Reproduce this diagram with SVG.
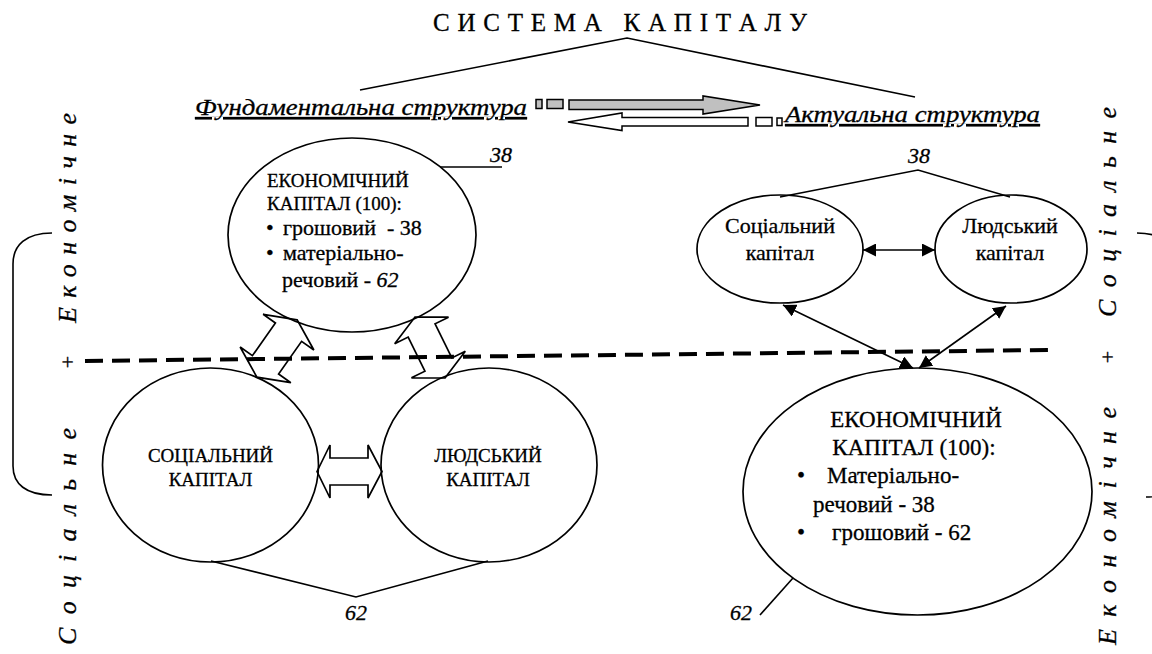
<svg xmlns="http://www.w3.org/2000/svg" width="1152" height="654" viewBox="0 0 1152 654">
<defs>
<style>
text{font-family:'Liberation Serif','Times New Roman',serif;fill:#000;stroke:#000;stroke-width:0.3}
.it{font-style:italic}
.el{fill:#fff;stroke:#000;stroke-width:1.7}
.ln{stroke:#000;stroke-width:1.6;fill:none}
.blk{fill:none;stroke:#000;stroke-width:1.7;stroke-linejoin:miter}
.dash{stroke:#000;stroke-width:4;stroke-dasharray:18 9;fill:none}
.dbl{stroke:#000;stroke-width:1.6;fill:none;marker-start:url(#ah);marker-end:url(#ah)}
</style>
<marker id="ah" viewBox="0 0 12 12" refX="12" refY="6" markerWidth="13" markerHeight="13" markerUnits="userSpaceOnUse" orient="auto-start-reverse"><path d="M0,0 L12,6 L0,12 z" fill="#000"/></marker>
</defs>
<rect width="1152" height="654" fill="#fff"/>

<g id="title"><text x="433" y="31" font-size="25" textLength="374" lengthAdjust="spacing" xml:space="preserve">С И С Т Е М А   К А П І Т А Л У</text></g>

<g id="fundamental"><text x="195" y="115" class="it" font-size="24" textLength="332" lengthAdjust="spacingAndGlyphs" text-decoration="underline">Фундаментальна структура</text></g>
<g id="actual"><text x="785" y="122" class="it" font-size="24" textLength="255" lengthAdjust="spacingAndGlyphs" text-decoration="underline">Актуальна структура</text></g>

<g id="econ-left">
<ellipse class="el" cx="352" cy="235" rx="124" ry="97"/>
<text x="267" y="187" font-size="19">ЕКОНОМІЧНИЙ</text>
<text x="267" y="210" font-size="19">КАПІТАЛ (100):</text>
<text x="266" y="235" font-size="22">•</text><text x="283" y="235" font-size="22" xml:space="preserve">грошовий  - 38</text>
<text x="266" y="260" font-size="22">•</text><text x="283" y="260" font-size="22">матеріально-</text>
<text x="282" y="287" font-size="22">речовий - <tspan class="it">62</tspan></text>
</g>

<g id="social-left">
<ellipse class="el" cx="210.5" cy="465" rx="108" ry="97"/>
<text x="210.5" y="462" font-size="19" text-anchor="middle">СОЦІАЛЬНИЙ</text>
<text x="210.5" y="486" font-size="19" text-anchor="middle">КАПІТАЛ</text>
</g>
<g id="human-left">
<ellipse class="el" cx="489" cy="465" rx="108" ry="97"/>
<text x="488" y="462" font-size="19" text-anchor="middle">ЛЮДСЬКИЙ</text>
<text x="488" y="486" font-size="19" text-anchor="middle">КАПІТАЛ</text>
</g>

<g id="social-right">
<ellipse class="el" cx="780" cy="249" rx="83" ry="54"/>
<text x="780" y="233" font-size="22" text-anchor="middle">Соціальний</text>
<text x="780" y="260" font-size="22" text-anchor="middle">капітал</text>
</g>
<g id="human-right">
<ellipse class="el" cx="1011" cy="249" rx="76" ry="54"/>
<text x="1010" y="233" font-size="22" text-anchor="middle">Людський</text>
<text x="1010" y="260" font-size="22" text-anchor="middle">капітал</text>
</g>

<g id="econ-right">
<ellipse class="el" cx="917.5" cy="491.5" rx="174.5" ry="123.5"/>
<text x="916" y="427" font-size="23" text-anchor="middle">ЕКОНОМІЧНИЙ</text>
<text x="914" y="455" font-size="23" text-anchor="middle">КАПІТАЛ (100):</text>
<text x="797" y="483" font-size="23">•</text><text x="827" y="483" font-size="23">Матеріально-</text>
<text x="813" y="512" font-size="23">речовий - 38</text>
<text x="797" y="540" font-size="23">•</text><text x="832" y="540" font-size="23">грошовий - 62</text>
</g>

<g id="labels">
<text x="501" y="162" class="it" font-size="22" text-anchor="middle">38</text>
<text x="919" y="163" class="it" font-size="22" text-anchor="middle">38</text>
<text x="356" y="620" class="it" font-size="22" text-anchor="middle">62</text>
<text x="741" y="620" class="it" font-size="22" text-anchor="middle">62</text>
</g>

<g id="side-left">
<path class="ln" d="M52,233 C26,233 13,245 13,264 L13,466 C13,484 26,495 52,495"/>
<text class="it" font-size="26" transform="translate(76,645) rotate(-90)" textLength="217" lengthAdjust="spacing">Соціальне</text>
<text font-size="22" transform="translate(75,362) rotate(-90)" text-anchor="middle">+</text>
<text class="it" font-size="26" transform="translate(76,323) rotate(-90)" textLength="210" lengthAdjust="spacing">Економічне</text>
</g>

<g id="side-right">
<path class="ln" d="M1137,233 C1163,233 1176,245 1176,264 L1176,466 C1176,486 1168,497 1146,497"/>
<text class="it" font-size="26" transform="translate(1116,645) rotate(-90)" textLength="238" lengthAdjust="spacing">Економічне</text>
<text font-size="22" transform="translate(1115,357) rotate(-90)" text-anchor="middle">+</text>
<text class="it" font-size="26" transform="translate(1116,317) rotate(-90)" textLength="210" lengthAdjust="spacing">Соціальне</text>
</g>

<g id="connectors">
<polyline class="ln" points="360,90 627,38 915,97"/>
<g id="striped-right">
<rect x="536" y="99.5" width="6" height="9" fill="#c0c0c0" stroke="#000" stroke-width="1.5"/>
<rect x="547" y="99.5" width="16" height="9" fill="#c0c0c0" stroke="#000" stroke-width="1.5"/>
<polygon points="569,100 703,100 703,96 760,105 703,114 703,109.5 569,109.5" fill="#c0c0c0" stroke="#000" stroke-width="1.5"/>
</g>
<g id="striped-left">
<polygon points="568,122 622,113 622,117.5 748,117.5 748,126 622,126 622,130.5" fill="#fff" stroke="#000" stroke-width="1.5"/>
<rect x="756" y="117.5" width="16" height="8.5" fill="#fff" stroke="#000" stroke-width="1.5"/>
<rect x="777" y="118" width="5" height="7.5" fill="#fff" stroke="#000" stroke-width="1.5"/>
</g>
<line class="ln" x1="440" y1="167" x2="502" y2="167"/>
<polyline class="ln" points="780,197 918,170 1010,197"/>
<line class="dbl" x1="863" y1="250" x2="935" y2="250"/>
<line class="dbl" x1="783" y1="305" x2="913" y2="368"/>
<line class="dbl" x1="1006" y1="306" x2="919" y2="368"/>
<polygon class="blk" transform="translate(277,348.5) rotate(-54.9)" points="35,0 20,-31 20,-16 -20,-16 -20,-31 -35,0 -20,31 -20,16 20,16 20,31"/>
<polygon class="blk" transform="translate(430,347.5) rotate(63.8)" points="34,0 19,-30 19,-15 -19,-15 -19,-30 -34,0 -19,30 -19,15 19,15 19,30"/>
<polygon class="blk" fill="#fff" points="317,471.5 330,445 330,458 368,458 368,445 382,471.5 368,498 368,485 330,485 330,498"/>
<polyline class="ln" points="211,561 356,597 488,561"/>
<line class="ln" x1="760" y1="615" x2="793" y2="578"/>
<line class="dash" x1="85" y1="361" x2="1048" y2="350"/>
</g>
</svg>
